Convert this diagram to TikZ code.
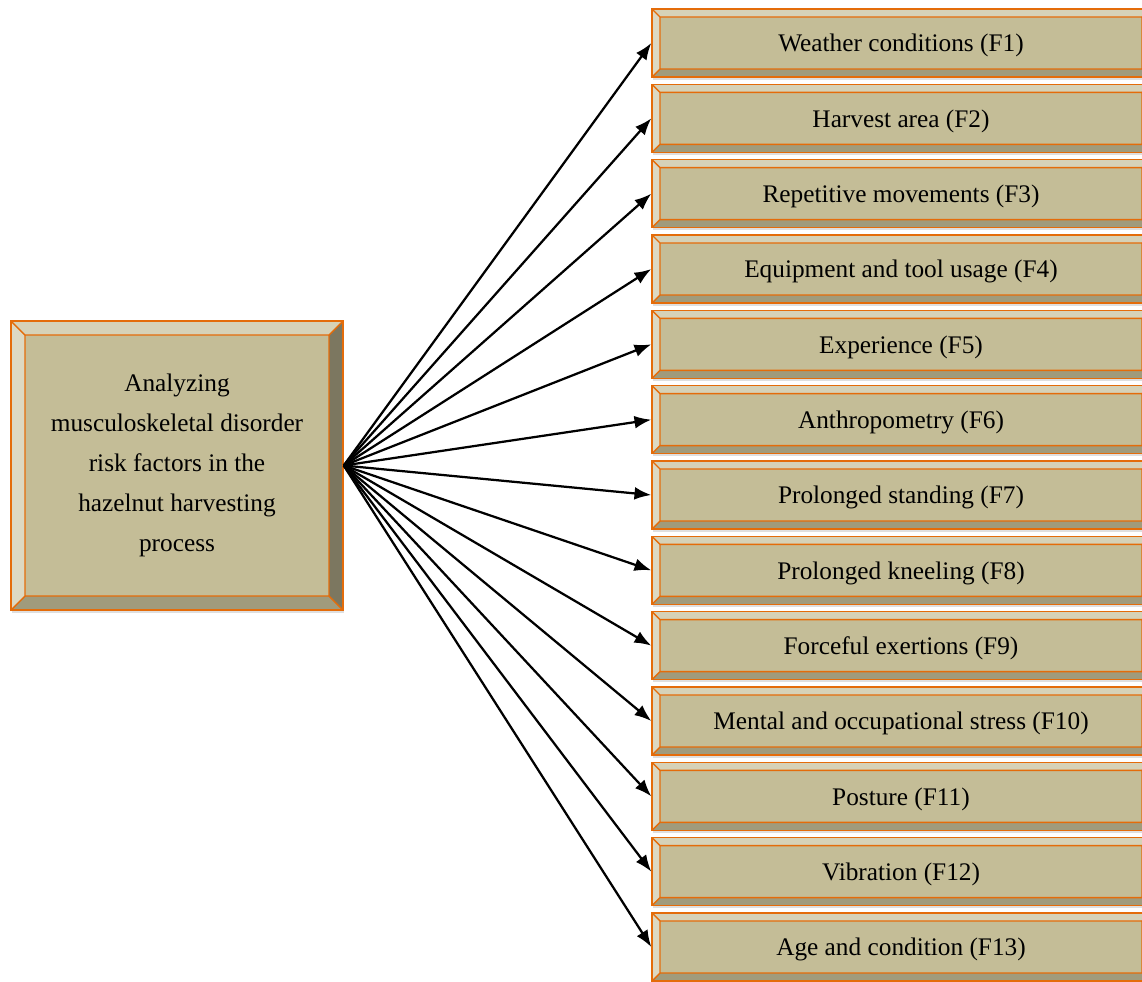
\documentclass[tikz,border=0pt]{standalone}
\usepackage{fontspec}
\setmainfont{Liberation Serif}
\usetikzlibrary{arrows.meta,shadows}
\definecolor{boxfill}{HTML}{C4BD97}
\definecolor{bvtop}{HTML}{D6D2B8}
\definecolor{bvleft}{HTML}{DDD9C3}
\definecolor{bvright}{HTML}{7C7760}
\definecolor{bvbot}{HTML}{A09B7C}
\definecolor{edge}{HTML}{E46C0A}
\tikzset{
  bevel/.style={fill=boxfill, draw=edge, line width=1pt,
    drop shadow={shadow xshift=0.02cm, shadow yshift=-0.07cm, fill=black!25, opacity=0.5},
    path picture={
      \coordinate (p1) at (path picture bounding box.north west);
      \coordinate (p2) at (path picture bounding box.north east);
      \coordinate (p3) at (path picture bounding box.south east);
      \coordinate (p4) at (path picture bounding box.south west);
      \coordinate (q1) at ([shift={(#1,-#1)}]p1);
      \coordinate (q2) at ([shift={(-#1,-#1)}]p2);
      \coordinate (q3) at ([shift={(-#1,#1)}]p3);
      \coordinate (q4) at ([shift={(#1,#1)}]p4);
      \fill[bvtop] (p1) -- (p2) -- (q2) -- (q1) -- cycle;
      \fill[bvright] (p2) -- (p3) -- (q3) -- (q2) -- cycle;
      \fill[bvbot] (p3) -- (p4) -- (q4) -- (q3) -- cycle;
      \fill[bvleft] (p4) -- (p1) -- (q1) -- (q4) -- cycle;
      \draw[edge, line width=1pt] (q1) rectangle (q3)
        (p1) -- (q1) (p2) -- (q2) (p3) -- (q3) (p4) -- (q4);
    }},
  factor/.style={bevel=0.2cm, minimum width=12.45cm, minimum height=1.7cm, inner sep=0pt,
    text height=14pt, text depth=1.5pt},
  arr/.style={-{Latex[length=0.42cm, width=0.32cm]}, line width=1.6pt}
}
\begin{document}
\begin{tikzpicture}[node distance=1.8833cm, font=\fontsize{18}{28.5}\selectfont]
\clip (0,0) rectangle (28.55,-24.525);
\node(A) [bevel=0.35cm, minimum width=8.3cm, minimum height=7.225cm, inner sep=0pt, align=center] at (4.425,-11.6375)
  {Analyzing\\musculoskeletal disorder\\risk factors in the\\hazelnut harvesting\\process};
\node(F1) [factor] at (22.525,-1.075) {Weather conditions (F1)};
\node(F2) [factor, below of=F1] {Harvest area (F2)};
\node(F3) [factor, below of=F2] {Repetitive movements (F3)};
\node(F4) [factor, below of=F3] {Equipment and tool usage (F4)};
\node(F5) [factor, below of=F4] {Experience (F5)};
\node(F6) [factor, below of=F5] {Anthropometry (F6)};
\node(F7) [factor, below of=F6] {Prolonged standing (F7)};
\node(F8) [factor, below of=F7] {Prolonged kneeling (F8)};
\node(F9) [factor, below of=F8] {Forceful exertions (F9)};
\node(F10) [factor, below of=F9] {Mental and occupational stress (F10)};
\node(F11) [factor, below of=F10] {Posture (F11)};
\node(F12) [factor, below of=F11] {Vibration (F12)};
\node(F13) [factor, below of=F12] {Age and condition (F13)};
\draw[arr](A.east) to (F1.west);
\draw[arr](A.east) to (F2.west);
\draw[arr](A.east) to (F3.west);
\draw[arr](A.east) to (F4.west);
\draw[arr](A.east) to (F5.west);
\draw[arr](A.east) to (F6.west);
\draw[arr](A.east) to (F7.west);
\draw[arr](A.east) to (F8.west);
\draw[arr](A.east) to (F9.west);
\draw[arr](A.east) to (F10.west);
\draw[arr](A.east) to (F11.west);
\draw[arr](A.east) to (F12.west);
\draw[arr](A.east) to (F13.west);
\end{tikzpicture}
\end{document}
